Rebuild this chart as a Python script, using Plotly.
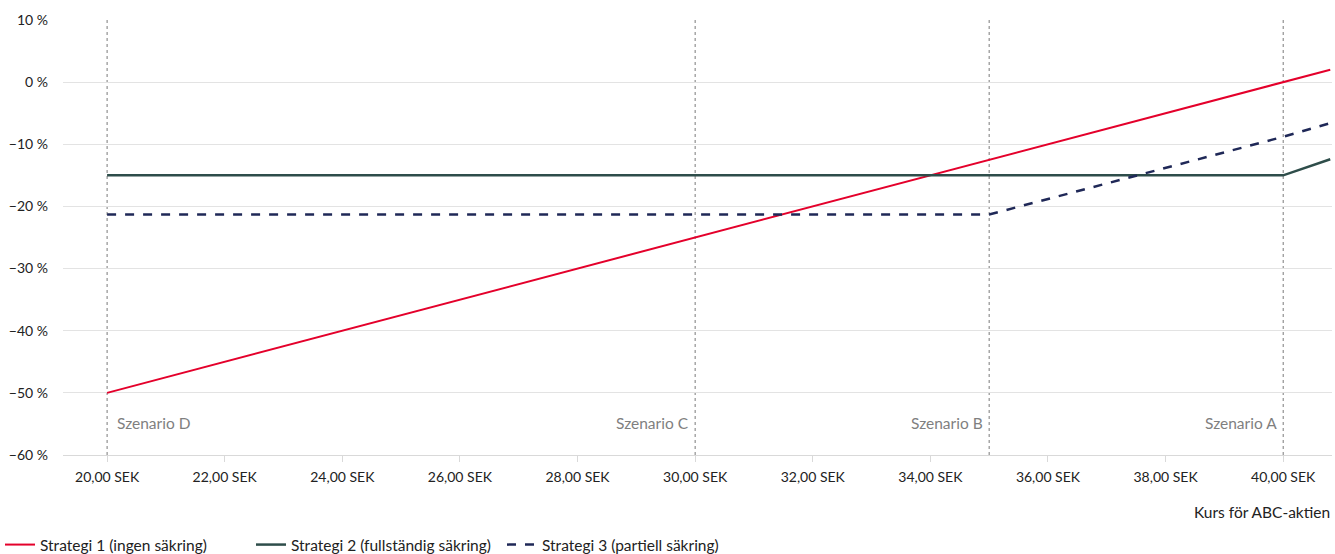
import plotly.graph_objects as go

# Share price of ABC (SEK) and return per hedging strategy (%)
price = [20, 35, 40, 40.8]
strategi_1 = [-50, -12.5, 0, 2]
strategi_2 = [-15, -15, -15, -12.4]
strategi_3 = [-21.3, -21.3, -8.8, -6.6]

series_names = [
    "Strategi 1 (ingen säkring)",
    "Strategi 2 (fullständig säkring)",
    "Strategi 3 (partiell säkring)",
]

scenario_prices = [40, 35, 30, 20]
scenario_labels = ["Szenario A", "Szenario B", "Szenario C", "Szenario D"]

x_ticks = [20, 22, 24, 26, 28, 30, 32, 34, 36, 38, 40]
x_ticktext = [f"{v},00 SEK" for v in x_ticks]
y_ticks = [10, 0, -10, -20, -30, -40, -50, -60]
y_ticktext = [(f"{v} %" if v >= 0 else f"\u2212{abs(v)} %") for v in y_ticks]

FONT = "Lato, 'Noto Sans', sans-serif"
W, H = 1335, 554
PLOT_TOP, PLOT_BOTTOM = 20, 455
PLOT_H = PLOT_BOTTOM - PLOT_TOP

fig = go.Figure()
fig.add_trace(go.Scatter(x=price, y=strategi_1, mode="lines", name=series_names[0],
                         line=dict(color="#e4002b", width=2)))
fig.add_trace(go.Scatter(x=price, y=strategi_2, mode="lines", name=series_names[1],
                         line=dict(color="#2e4d4a", width=2.5)))
fig.add_trace(go.Scatter(x=price, y=strategi_3, mode="lines", name=series_names[2],
                         line=dict(color="#1f2857", width=2.5, dash="dash")))

for xv, lab in zip(scenario_prices, scenario_labels):
    fig.add_shape(type="line", x0=xv, x1=xv, xref="x", y0=0, y1=1, yref="paper",
                  line=dict(color="#7a7a7a", width=1, dash="dot"), layer="below")
    left = xv == min(scenario_prices)
    fig.add_annotation(x=xv, y=-54.8, xref="x", yref="y", text=lab, showarrow=False,
                       xanchor="left" if left else "right",
                       xshift=8 if left else -4,
                       font=dict(family=FONT, size=15.5, color="#7f7f7f"))

fig.add_annotation(text="Kurs för ABC-aktien", x=1, xref="paper", xanchor="right",
                   y=(PLOT_BOTTOM - 512) / PLOT_H, yref="paper", yanchor="middle",
                   showarrow=False, font=dict(family=FONT, size=15.5, color="#222"))

fig.update_xaxes(range=[19.25, 40.83], tickvals=x_ticks, ticktext=x_ticktext,
                 showgrid=False, zeroline=False, showline=True, linecolor="#d9d9d9",
                 ticks="outside", ticklen=6, tickcolor="#d9d9d9", ticklabelstandoff=3,
                 tickfont=dict(family=FONT, size=14, color="#222"))
fig.update_yaxes(range=[-60, 10], tickvals=y_ticks, ticktext=y_ticktext,
                 showgrid=True, gridcolor="#e3e3e3", gridwidth=1, zeroline=False,
                 ticks="", ticklabelstandoff=14,
                 tickfont=dict(family=FONT, size=14, color="#222"))

fig.update_layout(
    width=W, height=H,
    margin=dict(l=63, r=3, t=PLOT_TOP, b=H - PLOT_BOTTOM, autoexpand=False),
    plot_bgcolor="white", paper_bgcolor="white",
    font=dict(family=FONT, size=14, color="#222"),
    showlegend=True,
    legend=dict(orientation="h", x=0, xref="container", xanchor="left",
                y=(H - 545) / H, yref="container", yanchor="middle",
                font=dict(family=FONT, size=15.5, color="#222"),
                entrywidth=206, entrywidthmode="pixels",
                itemwidth=30, tracegroupgap=0),
)

fig.write_html("out.html")
